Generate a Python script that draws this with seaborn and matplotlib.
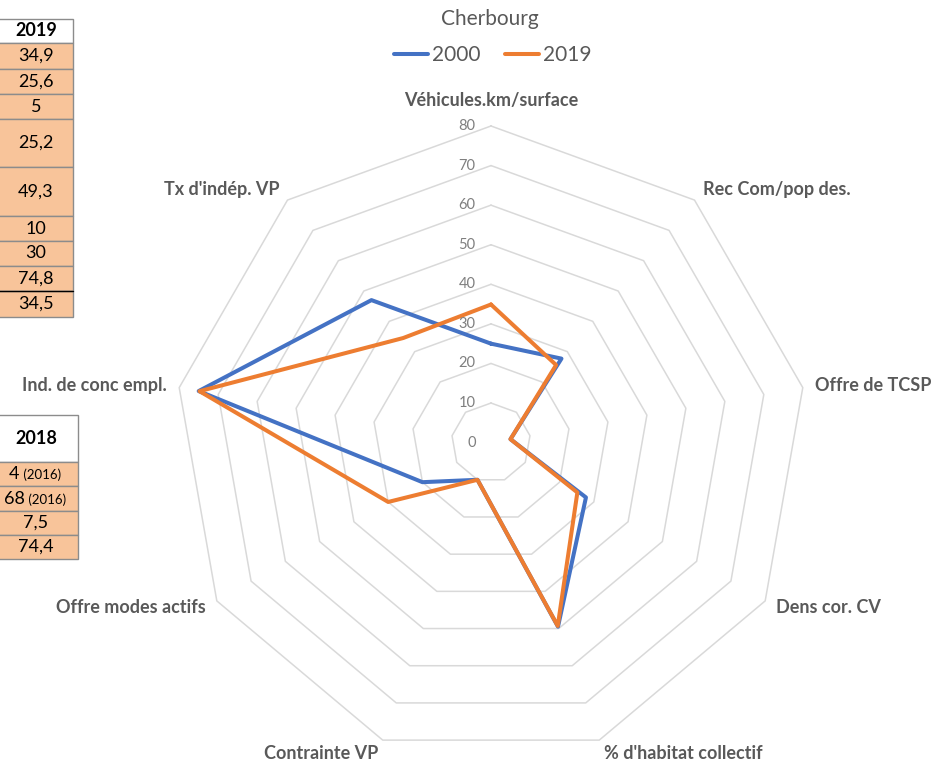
import numpy as np
import matplotlib
matplotlib.use('Agg')
import matplotlib.pyplot as plt
from matplotlib.patches import Rectangle
import seaborn as sns

# Radar data (Cherbourg)
categories = ['Véhicules.km/surface', 'Rec Com/pop des.', 'Offre de TCSP', 'Dens cor. CV',
              "% d'habitat collectif", 'Contrainte VP', 'Offre modes actifs',
              'Ind. de conc empl.', "Tx d'indép. VP"]
values_2000 = [25, 27.7, 5, 27.7, 49.5, 10, 20, 75, 47]
values_2019 = [34.9, 25.6, 5, 25.2, 49.3, 10, 30, 74.8, 34.5]
ring_levels = [0, 10, 20, 30, 40, 50, 60, 70, 80]

# Side tables (partly cropped in the original)
table_2019_header = '2019'
table_2018_header = '2018'
table_2018 = [4, 68, 7.5, 74.4]
table_2018_notes = ['(2016)', '(2016)', '', '']

sns.set_theme(style='white')
plt.rcParams['font.family'] = ['Lato', 'DejaVu Sans']

W, H = 935, 762
fig = plt.figure(figsize=(W / 100, H / 100), dpi=100)

# background axes in pixel coords for the tables and titles
bg = fig.add_axes([0, 0, 1, 1])
bg.set_xlim(0, W)
bg.set_ylim(H, 0)
bg.axis('off')


def fmt(v):
    return ('%g' % v).replace('.', ',')


fill = '#F8C49A'
border = '#8C8C8C'
cell_fs = 13

# table 2019
edges1 = [19, 43, 69, 94, 119, 167, 216, 241, 266, 291, 317]
x0, x1 = -5, 73
bg.add_patch(Rectangle((x0, edges1[0]), x1 - x0, edges1[1] - edges1[0], fc='white', ec=border, lw=1))
bg.text(36, (edges1[0] + edges1[1]) / 2, table_2019_header, ha='center', va='center',
        fontsize=cell_fs, fontweight='bold', color='black')
for i, v in enumerate(values_2019):
    y0, y1 = edges1[i + 1], edges1[i + 2]
    bg.add_patch(Rectangle((x0, y0), x1 - x0, y1 - y0, fc=fill, ec=border, lw=1))
    bg.text(36, (y0 + y1) / 2, fmt(v), ha='center', va='center', fontsize=cell_fs, color='black')
bg.plot([x0, x1], [edges1[-2], edges1[-2]], color='black', lw=1)

# table 2018
edges2 = [415, 462, 486, 511, 535, 559]
x0, x1 = -5, 78
bg.add_patch(Rectangle((x0, edges2[0]), x1 - x0, edges2[1] - edges2[0], fc='white', ec=border, lw=1))
bg.text(36, (edges2[0] + edges2[1]) / 2, table_2018_header, ha='center', va='center',
        fontsize=cell_fs, fontweight='bold', color='black')
renderer = fig.canvas.get_renderer()
for i, (v, note) in enumerate(zip(table_2018, table_2018_notes)):
    y0, y1 = edges2[i + 1], edges2[i + 2]
    bg.add_patch(Rectangle((x0, y0), x1 - x0, y1 - y0, fc=fill, ec=border, lw=1))
    if note:
        t1 = bg.text(0, (y0 + y1) / 2, fmt(v), ha='left', va='center', fontsize=cell_fs, color='black')
        t2 = bg.text(0, (y0 + y1) / 2 + 1, ' ' + note, ha='left', va='center', fontsize=9.5, color='black')
        w1 = t1.get_window_extent(renderer).width
        w2 = t2.get_window_extent(renderer).width
        start = 35 - (w1 + w2) / 2
        t1.set_x(start)
        t2.set_x(start + w1)
    else:
        bg.text(36, (y0 + y1) / 2, fmt(v), ha='center', va='center', fontsize=cell_fs, color='black')

# title
fig.text(490 / W, 1 - 19 / H, 'Cherbourg', ha='center', va='center', fontsize=15, color='#595959')

# radar axes: centre (491, 442.6), radius 316.6 px for 80
cx, cy, R = 491, 442.6, 316.6
ax = fig.add_axes([(cx - R) / W, (H - cy - R) / H, 2 * R / W, 2 * R / H], projection='polar')
ax.set_theta_zero_location('N')
ax.set_theta_direction(-1)
ax.set_ylim(0, 80)
ax.set_axis_off()

n = len(categories)
theta = np.linspace(0, 2 * np.pi, n, endpoint=False)
theta_c = np.append(theta, theta[0] + 2 * np.pi)

for lv in ring_levels[1:]:
    ax.plot(theta_c, [lv] * (n + 1), color='#D9D9D9', lw=1.1, clip_on=False, zorder=1)

for lv in ring_levels:
    ax.annotate(str(lv), xy=(0, lv), xytext=(-11, 0), textcoords='offset points',
                ha='right', va='center', fontsize=10.5, color='#7F7F7F', annotation_clip=False)

sns.lineplot(x=theta_c, y=values_2000 + values_2000[:1], sort=False, estimator=None,
             ax=ax, color='#4472C4', linewidth=2.9, label='2000')
sns.lineplot(x=theta_c, y=values_2019 + values_2019[:1], sort=False, estimator=None,
             ax=ax, color='#ED7D31', linewidth=2.9, label='2019')
for ln in ax.get_lines():
    ln.set_clip_on(False)

for ang, lab in zip(theta, categories):
    s, c = np.sin(ang), np.cos(ang)
    if abs(s) < 0.1:
        off = (0, 18.5)
        ha = 'center'
    else:
        off = (9 * s, 10 * c)
        ha = 'left' if s > 0 else 'right'
    ax.annotate(lab, xy=(ang, 80), xytext=off, textcoords='offset points', ha=ha, va='center',
                fontsize=13, fontweight='bold', color='#595959', annotation_clip=False)

handles, labels = ax.get_legend_handles_labels()
ax.get_legend().remove()
fig.legend(handles, labels, loc='center', bbox_to_anchor=(493 / W, 1 - 55 / H), ncol=2,
           frameon=False, fontsize=15, labelcolor='#595959', handlelength=1.6,
           handletextpad=0.2, columnspacing=1.2)

fig.savefig('out.png', dpi=100)
